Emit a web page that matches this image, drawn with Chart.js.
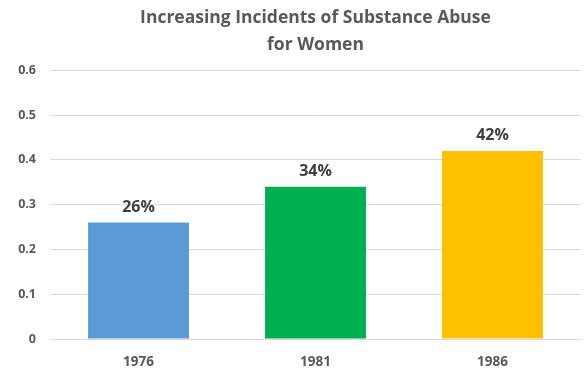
<!DOCTYPE html>
<html>
<head>
<meta charset="utf-8">
<script src="https://cdn.jsdelivr.net/npm/chart.js@4/dist/chart.umd.min.js"></script>
<style>
  html, body { margin: 0; padding: 0; background: #fff; }
  #wrap { width: 585px; height: 368px; }
</style>
</head>
<body>
<div id="wrap"><canvas id="grafico"></canvas></div>
<script>
const anos = ['1976', '1981', '1986']
const valores = [0.26, 0.34, 0.42]
const cores = ['#5B9BD5', '#00B050', '#FFC000']
const rotulos = ['26%', '34%', '42%']
const ticksY = [0, 0.1, 0.2, 0.3, 0.4, 0.5, 0.6]

// escreve o rótulo em cima de cada barra
const rotuloBarras = {
    id: 'rotuloBarras',
    afterDatasetsDraw(chart) {
        const ctx = chart.ctx
        const meta = chart.getDatasetMeta(0)
        ctx.save()
        ctx.font = 'bold 16px "Open Sans", sans-serif'
        ctx.fillStyle = '#404040'
        ctx.textAlign = 'center'
        ctx.textBaseline = 'middle'
        meta.data.forEach((bar, i) => {
            ctx.fillText(rotulos[i], bar.x, bar.y - 15)
        })
        ctx.restore()
    }
}

const ctx = document.getElementById('grafico').getContext('2d')

new Chart(ctx, {
    type: 'bar',
    data: {
        labels: anos,
        datasets: [{
            data: valores,
            backgroundColor: cores,
            borderWidth: 0,
            barPercentage: 0.57,
            categoryPercentage: 1
        }]
    },
    options: {
        responsive: true,
        maintainAspectRatio: false,
        animation: false,
        layout: { padding: { left: 0, right: 4, top: 0, bottom: 0 } },
        plugins: {
            legend: { display: false },
            tooltip: { enabled: false },
            title: {
                display: true,
                fullSize: false,
                text: ['Increasing Incidents of Substance Abuse', 'for Women'],
                color: '#595959',
                font: { family: '"Open Sans", sans-serif', size: 17.5, weight: 'bold', lineHeight: 1.55 },
                padding: { top: 4, bottom: 12 }
            }
        },
        scales: {
            y: {
                min: 0,
                max: 0.6,
                afterFit: s => { s.width = 50 },
                afterBuildTicks: s => { s.ticks = ticksY.map(v => ({ value: v })) },
                grid: { color: '#d9d9d9', drawTicks: false },
                border: { display: false },
                ticks: {
                    padding: 14,
                    color: '#595959',
                    font: { family: '"Open Sans", sans-serif', size: 12.5, weight: 'bold' },
                    callback: v => v === 0 ? '0' : v.toFixed(1)
                }
            },
            x: {
                afterFit: s => { s.height = 29 },
                grid: { display: false, drawTicks: false },
                border: { color: '#d9d9d9' },
                ticks: {
                    padding: 15,
                    color: '#595959',
                    font: { family: '"Open Sans", sans-serif', size: 13.5, weight: 'bold' }
                }
            }
        }
    },
    plugins: [rotuloBarras]
})
</script>
</body>
</html>
